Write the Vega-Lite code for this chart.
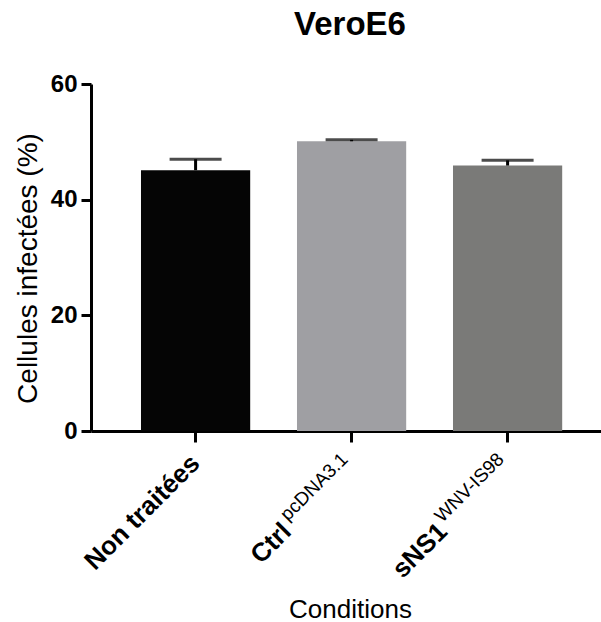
{
  "$schema": "https://vega.github.io/schema/vega-lite/v6.json",
  "width": 510,
  "height": 347,
  "autosize": {"type": "none"},
  "padding": {"left": 91, "top": 84, "right": 0, "bottom": 191},
  "background": "white",
  "title": {"text": "VeroE6", "font": "Liberation Sans", "fontSize": 33, "fontWeight": "bold", "color": "black", "anchor": "middle", "baseline": "alphabetic", "offset": 4, "dx": 4},
  "config": {
    "view": {"stroke": null},
    "axis": {"domainColor": "black", "domainWidth": 3, "tickColor": "black", "tickWidth": 3, "grid": false, "labelColor": "black", "titleColor": "black"}
  },
  "data": {"values": [
    {"cond": "Non traitées", "mean": 45.1, "upper": 47.0, "main": "Non traitées", "sup": ""},
    {"cond": "Ctrl", "mean": 50.1, "upper": 50.35, "main": "Ctrl", "sup": "pcDNA3.1"},
    {"cond": "sNS1", "mean": 45.9, "upper": 46.8, "main": "sNS1", "sup": "WNV-IS98"}
  ]},
  "encoding": {
    "x": {"field": "cond", "type": "nominal", "sort": null,
      "scale": {"paddingInner": 0.3, "paddingOuter": 0.2846, "align": 0.563},
      "axis": {"labels": false, "title": "Conditions", "tickSize": 11, "titleFont": "Liberation Sans", "titleFontSize": 26, "titleFontWeight": "normal", "titleX": 259, "titleY": 186, "titleBaseline": "alphabetic"}}
  },
  "layer": [
    {"mark": {"type": "bar"},
     "encoding": {
       "y": {"field": "mean", "type": "quantitative", "scale": {"domain": [0, 60], "nice": false},
         "axis": {"values": [0, 20, 40, 60], "labelFont": "Liberation Sans", "labelFontSize": 24, "labelFontWeight": "bold", "labelPadding": 4, "tickSize": 10,
           "title": "Cellules infectées (%)", "titleFont": "Liberation Sans", "titleFontSize": 28, "titleFontWeight": "normal", "titleX": -55, "titleY": 184, "titleBaseline": "alphabetic"}},
       "color": {"field": "cond", "type": "nominal", "scale": {"domain": ["Non traitées", "Ctrl", "sNS1"], "range": ["#050505", "#9f9fa3", "#7a7a78"]}, "legend": null}
     }},
    {"mark": {"type": "rule", "strokeWidth": 3, "color": "black"},
     "encoding": {"y": {"field": "mean", "type": "quantitative"}, "y2": {"field": "upper"}}},
    {"mark": {"type": "tick", "thickness": 3, "size": 52, "color": "black"},
     "encoding": {"y": {"field": "upper", "type": "quantitative"}}},
    {"transform": [{"filter": "datum.sup === ''"}],
     "mark": {"type": "text", "angle": 315, "align": "right", "baseline": "middle", "font": "Liberation Sans", "fontSize": 26, "fontWeight": "bold", "color": "black", "dx": -20, "dy": 20},
     "encoding": {"y": {"datum": 0, "type": "quantitative"}, "text": {"field": "main"}}},
    {"transform": [{"filter": "datum.sup !== ''"}],
     "mark": {"type": "text", "angle": 315, "align": "right", "baseline": "middle", "font": "Liberation Sans", "fontSize": 26, "fontWeight": "bold", "color": "black", "dx": -114, "dy": 22.6},
     "encoding": {"y": {"datum": 0, "type": "quantitative"}, "text": {"field": "main"}}},
    {"transform": [{"filter": "datum.sup !== ''"}],
     "mark": {"type": "text", "align": "right", "baseline": "middle", "font": "Liberation Sans", "fontSize": 19, "fontWeight": "normal", "color": "black", "dx": -22.6, "dy": 13},
     "encoding": {"y": {"datum": 0, "type": "quantitative"}, "angle": {"value": 315}, "text": {"field": "sup"}}}
  ]
}
